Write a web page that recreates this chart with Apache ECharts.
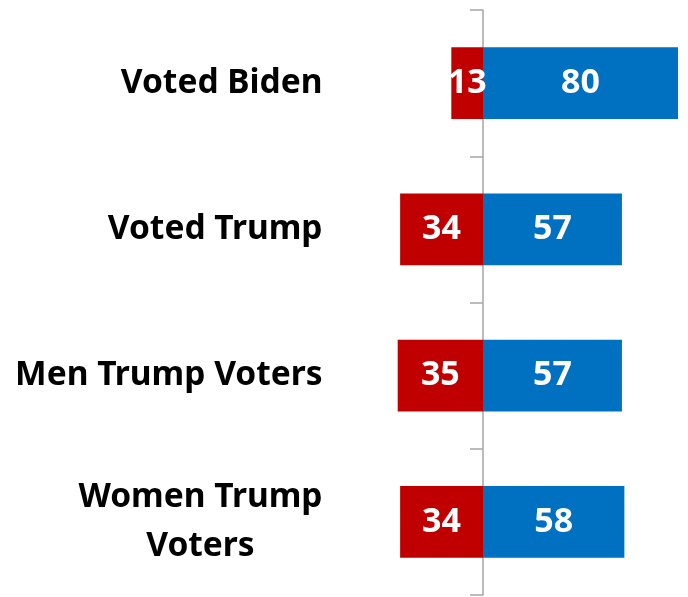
<!DOCTYPE html>
<html>
<head>
<meta charset="utf-8">
<script src="https://cdn.jsdelivr.net/npm/echarts@6/dist/echarts.min.js"></script>
<style>
html,body{margin:0;padding:0;background:#fff;}
#main{width:688px;height:597px;}
</style>
</head>
<body>
<div id="main"></div>
<script>
var categories = ['Voted Biden', 'Voted Trump', 'Men Trump Voters', 'Women Trump\nVoters'];
var redValues = [13, 34, 35, 34];
var blueValues = [80, 57, 57, 58];

var chart = echarts.init(document.getElementById('main'));
var font = '"Noto Sans", sans-serif';

var option = {
    animation: false,
    grid: {left: 385.5, right: 10, top: 10, bottom: 2, containLabel: false},
    xAxis: {
        type: 'value',
        min: -40,
        max: 80,
        show: false
    },
    yAxis: [
        {
            // labels at the left edge
            type: 'category',
            position: 'left',
            inverse: true,
            data: categories,
            axisLine: {show: false, onZero: false},
            axisTick: {show: false},
            axisLabel: {
                margin: 63,
                formatter: function (v) {
                    return v.split('\n').map(function (s) { return '{c|' + s + '}'; }).join('\n');
                },
                rich: {
                    c: {
                        fontFamily: font,
                        fontWeight: 'bold',
                        fontSize: 33.5,
                        color: '#000',
                        align: 'center',
                        lineHeight: 49
                    }
                }
            }
        },
        {
            // centre line with ticks
            type: 'category',
            position: 'left',
            inverse: true,
            data: categories,
            axisLine: {show: true, onZero: true, lineStyle: {color: '#A6A6A6', width: 1.5}},
            axisTick: {show: true, inside: false, length: 13, lineStyle: {color: '#A6A6A6', width: 1.5}},
            axisLabel: {show: false}
        }
    ],
    series: [
        {
            name: 'red',
            type: 'bar',
            stack: 'a',
            barWidth: '49%',
            itemStyle: {color: '#C00000'},
            label: {
                show: true,
                position: 'inside',
                color: '#fff',
                fontFamily: font,
                fontWeight: 'bold',
                fontSize: 34,
                formatter: function (p) { return Math.abs(p.value); }
            },
            data: redValues.map(function (v) { return -v; })
        },
        {
            name: 'blue',
            type: 'bar',
            stack: 'a',
            barWidth: '49%',
            itemStyle: {color: '#0070C0'},
            label: {
                show: true,
                position: 'inside',
                color: '#fff',
                fontFamily: font,
                fontWeight: 'bold',
                fontSize: 34
            },
            data: blueValues
        }
    ]
};
chart.setOption(option);
</script>
</body>
</html>
